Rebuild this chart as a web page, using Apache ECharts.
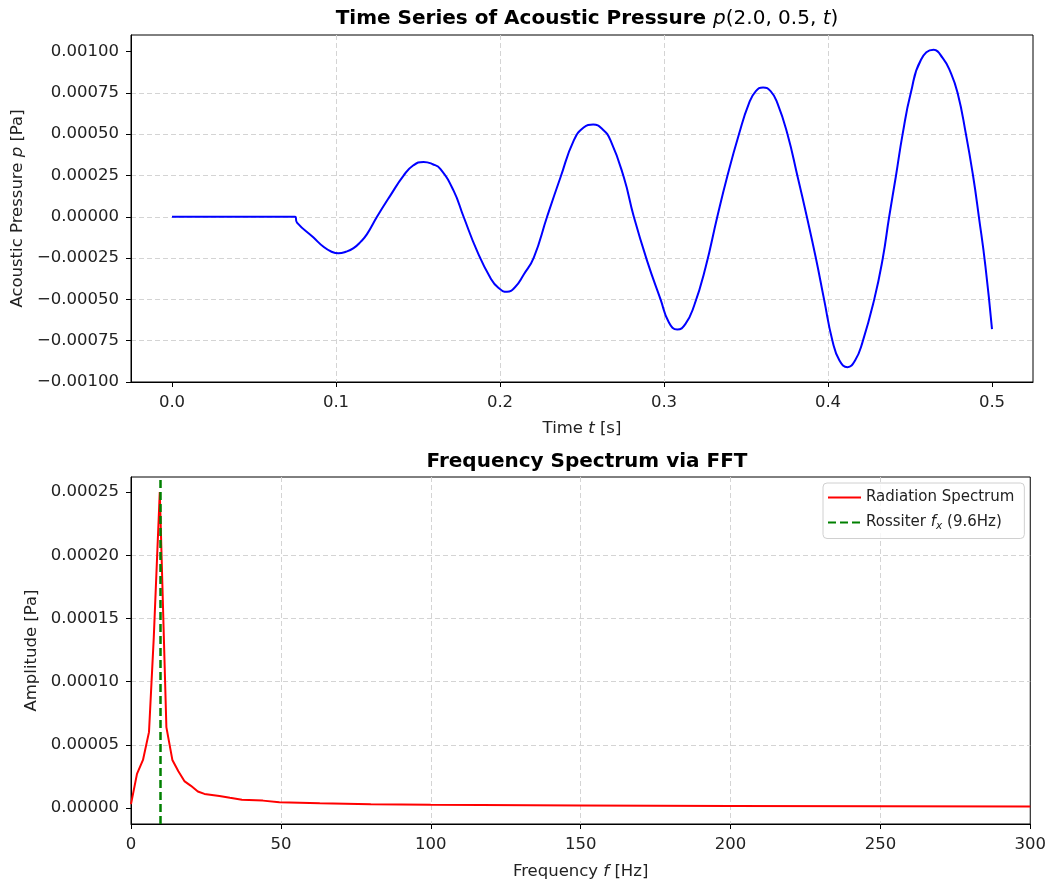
<!DOCTYPE html>
<html>
<head>
    <meta charset="utf-8" />
    <title>Acoustic Pressure</title>
    <style>
        html, body { margin: 0; padding: 0; background: #fff; }
    </style>
</head>
<body>
    <div id="divChart" style="width:1049px;height:884px;"></div>

    <script src="https://cdn.jsdelivr.net/npm/echarts@6/dist/echarts.min.js"></script>
    <script>
        // time series p(2.0, 0.5, t)
        var timeS = [0, 0.075, 0.0762, 0.0863, 0.0924, 0.0970, 0.1015, 0.1060, 0.1107, 0.1150, 0.1189, 0.1250,
            0.1331, 0.1412, 0.1470, 0.1534, 0.1590, 0.1636, 0.1717, 0.1778, 0.1860, 0.1941,
            0.1990, 0.2043, 0.2090, 0.2145, 0.2206, 0.2287, 0.2369, 0.2450, 0.2510, 0.2568,
            0.2625, 0.2674, 0.2755, 0.2816, 0.2898, 0.2979, 0.3030, 0.3081, 0.3130, 0.3183,
            0.3254, 0.3325, 0.3386, 0.3457, 0.3518, 0.3560, 0.3604, 0.3650, 0.3692, 0.3753,
            0.3814, 0.3871, 0.3926, 0.3976, 0.4027, 0.4070, 0.4119, 0.4165, 0.4210, 0.4282,
            0.4333, 0.4373, 0.4414, 0.4455, 0.4505, 0.4567, 0.4644, 0.4700, 0.4745, 0.4790,
            0.4841, 0.4885, 0.4920, 0.4960, 0.5000];
        var pressure = [0, 0, -0.000035, -0.000126, -0.000182, -0.000210, -0.000221, -0.000212, -0.000190, -0.000152, -0.000105, 0,
            0.000128, 0.000249, 0.000310, 0.000332, 0.000318, 0.000290, 0.000158, 0, -0.000207, -0.000369,
            -0.000430, -0.000454, -0.000428, -0.000349, -0.000247, 0, 0.000239, 0.000462, 0.000540, 0.000558,
            0.000530, 0.000462, 0.000239, 0, -0.000270, -0.000500, -0.000640, -0.000683, -0.000650, -0.000540,
            -0.000304, 0, 0.000245, 0.000499, 0.000686, 0.000760, 0.000783, 0.000760, 0.000686, 0.000499,
            0.000245, 0, -0.000250, -0.000500, -0.000750, -0.000870, -0.000910, -0.000870, -0.000760, -0.000500,
            -0.000257, 0, 0.000245, 0.000500, 0.000750, 0.000950, 0.001010, 0.000960, 0.000880, 0.000750,
            0.000500, 0.000245, 0, -0.000300, -0.000680];

        // FFT spectrum
        var freqHz = [0, 2, 4, 6, 7.6, 9.6, 11.8, 13.8, 15.8, 17.9, 20, 22.3, 24.5, 29.5, 33, 37, 44, 49.5, 63, 80, 100, 150, 200, 250, 300];
        var amplitude = [0.000003, 0.000027, 0.000038, 0.000060, 0.000135, 0.000250, 0.000064, 0.000038, 0.000029, 0.000021,
            0.0000175, 0.000013, 0.0000111, 0.0000095, 0.0000080, 0.0000065, 0.0000058, 0.0000045, 0.0000037, 0.0000030,
            0.0000026, 0.0000020, 0.0000016, 0.0000013, 0.0000011];
        var rossiterFx = 9.6;

        // tick values
        var timeTicks = [0, 0.1, 0.2, 0.3, 0.4, 0.5];
        var pressureTicks = [-0.001, -0.00075, -0.0005, -0.00025, 0, 0.00025, 0.0005, 0.00075, 0.001];
        var freqTicks = [0, 50, 100, 150, 200, 250, 300];
        var ampTicks = [0, 0.00005, 0.0001, 0.00015, 0.0002, 0.00025];

        var FONT = 'DejaVu Sans';
        var gridLine = { show: true, showMinLine: false, showMaxLine: false, lineStyle: { color: '#d4d4d4', type: [5, 3], width: 1 } };

        function fmt5(v) {
            return (v < 0 ? '\u2212' : '') + Math.abs(v).toFixed(5);
        }

        function makeAxis(extra) {
            var base = {
                axisLine: { show: true, onZero: false, lineStyle: { color: '#000', width: 1 } },
                axisTick: { show: true, inside: false, length: 5, lineStyle: { color: '#000' } },
                axisLabel: { color: '#222', fontFamily: FONT, fontSize: 16.5, margin: 12 },
                splitLine: gridLine,
                nameLocation: 'middle',
                nameTextStyle: { color: '#222', fontFamily: FONT, fontSize: 16.5 }
            };
            for (var k in extra) {
                if (typeof extra[k] === 'object' && base[k] && !Array.isArray(extra[k])) {
                    base[k] = Object.assign({}, base[k], extra[k]);
                } else {
                    base[k] = extra[k];
                }
            }
            return base;
        }

        var italic = { fontFamily: FONT, fontStyle: 'italic', fontSize: 16.5, color: '#222' };
        var plain = { fontFamily: FONT, fontSize: 16.5, color: '#222' };

        var myChart = echarts.init(document.getElementById('divChart'));

        var option = {
            backgroundColor: '#fff',
            animation: false,
            title: [
                {
                    text: '{b|Time Series of Acoustic Pressure }{i|p}{r|(2.0, 0.5, }{i|t}{r|)}',
                    left: 582, top: 4, textAlign: 'center',
                    textStyle: {
                        rich: {
                            b: { fontFamily: FONT, fontWeight: 'bold', fontSize: 20, color: '#000' },
                            i: { fontFamily: FONT, fontWeight: 'normal', fontStyle: 'italic', fontSize: 20, color: '#000' },
                            r: { fontFamily: FONT, fontWeight: 'normal', fontSize: 20, color: '#000' }
                        }
                    }
                },
                {
                    text: 'Frequency Spectrum via FFT',
                    left: 582, top: 447, textAlign: 'center',
                    textStyle: { fontFamily: FONT, fontWeight: 'bold', fontSize: 20, color: '#000' }
                }
            ],
            legend: {
                orient: 'vertical',
                left: 823, top: 483,
                itemWidth: 33, itemHeight: 14, itemGap: 10,
                padding: [7, 10, 7, 4],
                borderColor: '#d0d0d0', borderWidth: 1, borderRadius: 4,
                backgroundColor: 'rgba(255,255,255,0.8)',
                itemStyle: { opacity: 0 },
                data: ['Radiation Spectrum', 'Rossiter'],
                formatter: function (name) {
                    if (name === 'Rossiter') {
                        return '{n|Rossiter }{i|f}{s|x}{n| (9.6Hz)}';
                    }
                    return '{n|' + name + '}';
                },
                textStyle: {
                    rich: {
                        n: { fontFamily: FONT, fontSize: 15, color: '#222' },
                        i: { fontFamily: FONT, fontStyle: 'italic', fontSize: 15, color: '#222' },
                        s: { fontFamily: FONT, fontStyle: 'italic', fontSize: 10.5, color: '#222', padding: [7, 0, 0, 0] }
                    }
                }
            },
            grid: [
                { left: 131, right: 16, top: 35, height: 347, show: true, borderColor: '#000', borderWidth: 1 },
                { left: 131, right: 16, top: 477, height: 347, show: true, borderColor: '#000', borderWidth: 1 }
            ],
            xAxis: [
                makeAxis({
                    type: 'value', gridIndex: 0, min: -0.025, max: 0.525,
                    axisTick: { customValues: timeTicks },
                    axisLabel: { customValues: timeTicks, formatter: function (v) { return v.toFixed(1); } },
                    name: '{n|Time }{i|t}{n| [s]}', nameGap: 38,
                    nameTextStyle: { rich: { n: plain, i: italic } }
                }),
                makeAxis({
                    type: 'value', gridIndex: 1, min: 0, max: 300, interval: 50,
                    axisTick: { customValues: freqTicks },
                    axisLabel: { customValues: freqTicks },
                    name: '{n|Frequency }{i|f}{n| [Hz]}', nameGap: 39,
                    nameTextStyle: { rich: { n: plain, i: italic } }
                })
            ],
            yAxis: [
                makeAxis({
                    type: 'value', gridIndex: 0, min: -0.001, max: 0.0011,
                    axisTick: { customValues: pressureTicks },
                    axisLabel: { customValues: pressureTicks, formatter: fmt5 },
                    name: '{n|Acoustic Pressure }{i|p}{n| [Pa]}', nameGap: 104,
                    nameTextStyle: { rich: { n: plain, i: italic } }
                }),
                makeAxis({
                    type: 'value', gridIndex: 1, min: -0.0000127, max: 0.0002619,
                    axisTick: { customValues: ampTicks },
                    axisLabel: { customValues: ampTicks, formatter: fmt5 },
                    name: 'Amplitude [Pa]', nameGap: 87
                })
            ],
            series: [
                {
                    name: 'p(t)',
                    type: 'line',
                    xAxisIndex: 0, yAxisIndex: 0,
                    symbol: 'none',
                    smooth: 0.5,
                    lineStyle: { color: '#0000ff', width: 2 },
                    itemStyle: { color: '#0000ff' },
                    data: timeS.map(function (t, i) { return [t, pressure[i]]; })
                },
                {
                    name: 'Radiation Spectrum',
                    type: 'line',
                    xAxisIndex: 1, yAxisIndex: 1,
                    symbol: 'none',
                    lineStyle: { color: '#ff0000', width: 2 },
                    itemStyle: { color: '#ff0000' },
                    data: freqHz.map(function (f, i) { return [f, amplitude[i]]; })
                },
                {
                    name: 'Rossiter',
                    type: 'line',
                    xAxisIndex: 1, yAxisIndex: 1,
                    symbol: 'none',
                    lineStyle: { color: '#008000', width: 2.5, type: [8, 4] },
                    itemStyle: { color: '#008000' },
                    data: [],
                    markLine: {
                        silent: true,
                        symbol: 'none',
                        label: { show: false },
                        lineStyle: { color: '#008000', width: 2.5, type: [8, 4] },
                        data: [{ xAxis: rossiterFx }]
                    }
                }
            ]
        };

        if (option && typeof option === "object") {
            myChart.setOption(option);
        }
    </script>
</body>
</html>
